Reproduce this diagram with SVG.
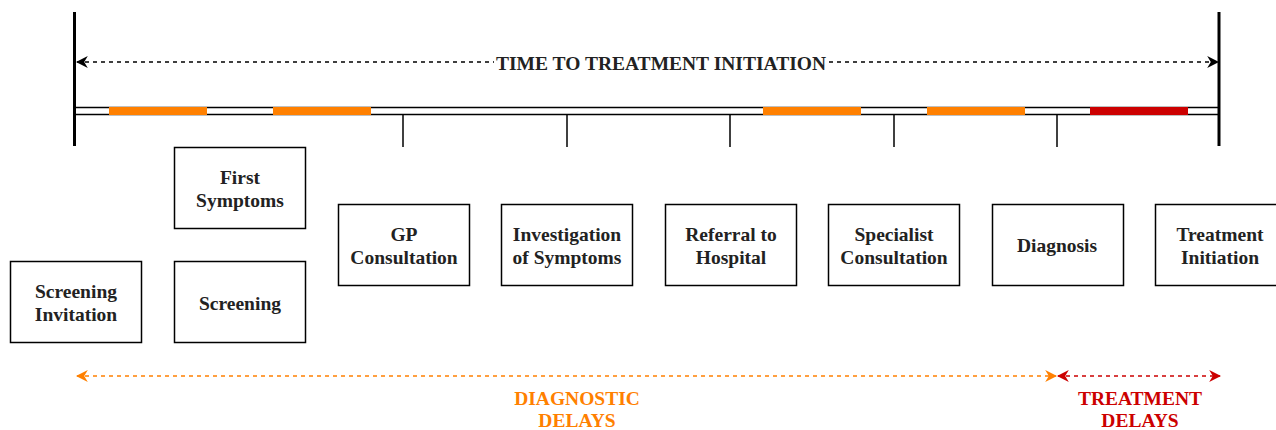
<svg xmlns="http://www.w3.org/2000/svg" width="1276" height="430" viewBox="0 0 1276 430">
<style>
.box{fill:#fff;stroke:#000;stroke-width:1.5}
.t{font-family:"Liberation Serif",serif;font-weight:bold;font-size:19.5px;fill:#222;text-anchor:middle}
.tick{stroke:#000;stroke-width:1.5}
</style>
<defs>
<marker id="ak" viewBox="0 0 10 10" refX="9" refY="5" markerWidth="12" markerHeight="12" markerUnits="userSpaceOnUse" orient="auto-start-reverse"><path d="M0,0 L10,5 L0,10 L3,5 Z" fill="#000"/></marker>
<marker id="ao" viewBox="0 0 10 10" refX="9" refY="5" markerWidth="12" markerHeight="12" markerUnits="userSpaceOnUse" orient="auto-start-reverse"><path d="M0,0 L10,5 L0,10 L3,5 Z" fill="#FF8000"/></marker>
<marker id="ar" viewBox="0 0 10 10" refX="9" refY="5" markerWidth="12" markerHeight="12" markerUnits="userSpaceOnUse" orient="auto-start-reverse"><path d="M0,0 L10,5 L0,10 L3,5 Z" fill="#CC0000"/></marker>
</defs>
<rect width="1276" height="430" fill="#fff"/>
<g id="timeline">
<rect x="75" y="107.5" width="1144" height="7" fill="#fff" stroke="#000" stroke-width="1.5"/>
<rect x="109" y="107" width="98" height="8" fill="#FF8000"/>
<rect x="273" y="107" width="98" height="8" fill="#FF8000"/>
<rect x="763" y="107" width="98" height="8" fill="#FF8000"/>
<rect x="927" y="107" width="98" height="8" fill="#FF8000"/>
<rect x="1090" y="107" width="98" height="8" fill="#CC0000"/>
<line x1="74.5" y1="12" x2="74.5" y2="146" stroke="#000" stroke-width="3"/>
<line x1="1219" y1="12" x2="1219" y2="146" stroke="#000" stroke-width="3"/>
<line class="tick" x1="403" y1="115" x2="403" y2="147"/>
<line class="tick" x1="567" y1="115" x2="567" y2="147"/>
<line class="tick" x1="730" y1="115" x2="730" y2="147"/>
<line class="tick" x1="894" y1="115" x2="894" y2="147"/>
<line class="tick" x1="1057" y1="115" x2="1057" y2="147"/>
</g>
<g id="connectors">
<line x1="77" y1="62" x2="1218" y2="62" stroke="#000" stroke-width="1.5" stroke-dasharray="4 4" marker-start="url(#ak)" marker-end="url(#ak)"/>
<line x1="77" y1="376" x2="1056" y2="376" stroke="#FF8000" stroke-width="1.5" stroke-dasharray="4 4" marker-start="url(#ao)" marker-end="url(#ao)"/>
<line x1="1058" y1="376" x2="1220" y2="376" stroke="#CC0000" stroke-width="1.5" stroke-dasharray="4 4" marker-start="url(#ar)" marker-end="url(#ar)"/>
</g>
<g id="label-time">
<rect x="494" y="52" width="334" height="22" fill="#fff"/>
<text class="t" x="661" y="70">TIME TO TREATMENT INITIATION</text>
</g>
<g id="label-diag">
<text class="t" x="577" y="405" style="fill:#FF8000">DIAGNOSTIC</text>
<text class="t" x="577" y="427" style="fill:#FF8000">DELAYS</text>
</g>
<g id="label-treat">
<text class="t" x="1140" y="405" style="fill:#CC0000">TREATMENT</text>
<text class="t" x="1140" y="427" style="fill:#CC0000">DELAYS</text>
</g>
<g id="screening-invitation"><rect class="box" x="10.5" y="261.5" width="131" height="81"/><text class="t" x="76" y="298">Screening</text><text class="t" x="76" y="321">Invitation</text></g>
<g id="first-symptoms"><rect class="box" x="174.5" y="147.5" width="131" height="81"/><text class="t" x="240" y="184">First</text><text class="t" x="240" y="207">Symptoms</text></g>
<g id="screening"><rect class="box" x="174.5" y="261.5" width="131" height="81"/><text class="t" x="240" y="310">Screening</text></g>
<g id="gp-consultation"><rect class="box" x="338.5" y="204.5" width="131" height="81"/><text class="t" x="404" y="241">GP</text><text class="t" x="404" y="264">Consultation</text></g>
<g id="investigation"><rect class="box" x="501.5" y="204.5" width="131" height="81"/><text class="t" x="567" y="241">Investigation</text><text class="t" x="567" y="264">of Symptoms</text></g>
<g id="referral"><rect class="box" x="665.5" y="204.5" width="131" height="81"/><text class="t" x="731" y="241">Referral to</text><text class="t" x="731" y="264">Hospital</text></g>
<g id="specialist"><rect class="box" x="828.5" y="204.5" width="131" height="81"/><text class="t" x="894" y="241">Specialist</text><text class="t" x="894" y="264">Consultation</text></g>
<g id="diagnosis"><rect class="box" x="992.5" y="204.5" width="131" height="81"/><text class="t" x="1057" y="252">Diagnosis</text></g>
<g id="treatment-initiation"><rect class="box" x="1155.5" y="204.5" width="131" height="81"/><text class="t" x="1220" y="241">Treatment</text><text class="t" x="1220" y="264">Initiation</text></g>
</svg>
